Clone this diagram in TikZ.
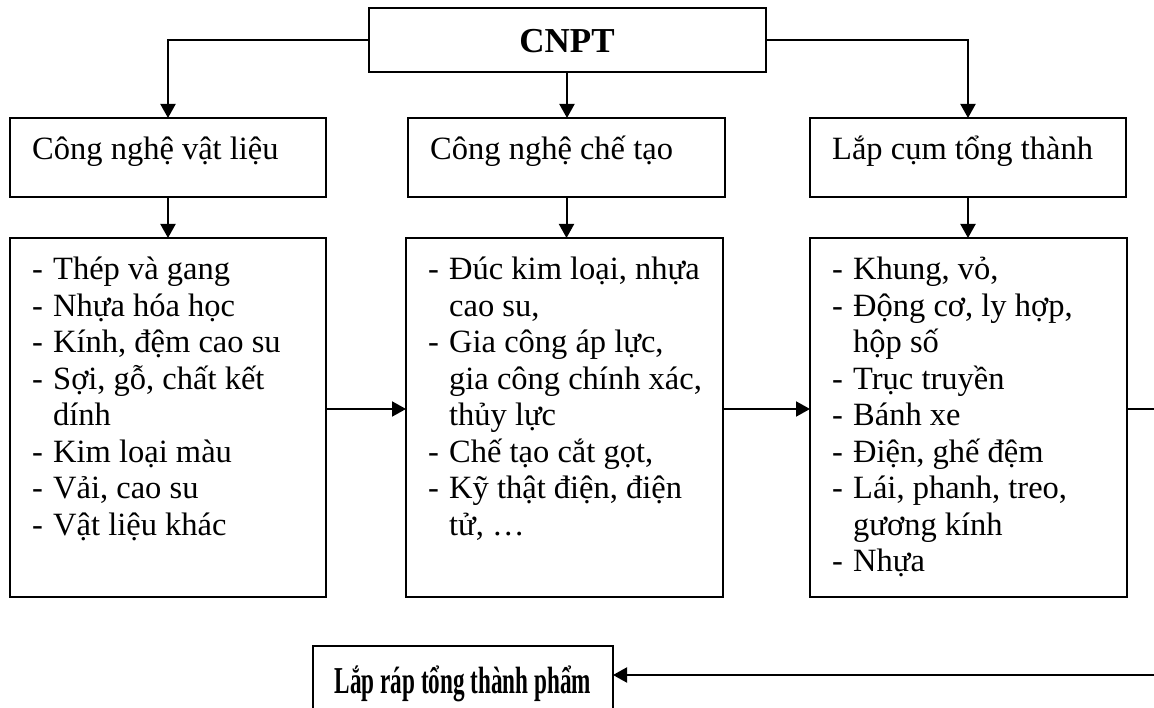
\documentclass[tikz,border=0pt]{standalone}
\usepackage{fontspec}
\usepackage{graphicx}
\setmainfont{Liberation Serif}
\usetikzlibrary{arrows.meta}
\newcommand\lit{\makebox[21pt][l]{-}}
\newcommand\lcn{\hspace*{21pt}}
\newcommand\lst[1]{\vtop{\baselineskip=36.5pt\lineskiplimit=-100pt\lineskip=0pt #1}}
\begin{document}
\begin{tikzpicture}[x=1pt,y=-1pt,
  box/.style={draw,line width=2pt,rectangle,inner sep=0pt,outer sep=0pt},
  txt/.style={anchor=base west,inner sep=0pt,font=\fontsize{32.5}{36.5}\selectfont},
  arr/.style={line width=2pt,-{Triangle[length=14pt,width=15pt]}},
  ln/.style={line width=2pt}]
\useasboundingbox (0,0) rectangle (1154,708);
\clip (0,0) rectangle (1154,708);
% top box
\node[box,minimum width=397,minimum height=64] (cnpt) at (567,40) {};
\node[inner sep=0pt,font=\fontsize{35}{40}\selectfont\bfseries] (cnpttxt) at (567,41) {CNPT};
% row 1
\node[box,minimum width=316,minimum height=79] (t1) at (168,157.5) {};
\node[box,minimum width=317,minimum height=79] (t2) at (566.5,157.5) {};
\node[box,minimum width=316,minimum height=79] (t3) at (968,157.5) {};
\node[txt] (t1txt) at (32,160) {Công nghệ vật liệu};
\node[txt] (t2txt) at (430,160) {Công nghệ chế tạo};
\node[txt] (t3txt) at (832,160) {Lắp cụm tổng thành};
% row 2
\node[box,minimum width=316,minimum height=359] (l1) at (168,417.5) {};
\node[box,minimum width=317,minimum height=359] (l2) at (564.5,417.5) {};
\node[box,minimum width=317,minimum height=359] (l3) at (968.5,417.5) {};
\node[txt] (l1txt) at (32,280) {\lst{%
  \hbox{\lit Thép và gang}%
  \hbox{\lit Nhựa hóa học}%
  \hbox{\lit Kính, đệm cao su}%
  \hbox{\lit Sợi, gỗ, chất kết}%
  \hbox{\lcn dính}%
  \hbox{\lit Kim loại màu}%
  \hbox{\lit Vải, cao su}%
  \hbox{\lit Vật liệu khác}}};
\node[txt] (l2txt) at (428,280) {\lst{%
  \hbox{\lit Đúc kim loại, nhựa}%
  \hbox{\lcn cao su,}%
  \hbox{\lit Gia công áp lực,}%
  \hbox{\lcn gia công chính xác,}%
  \hbox{\lcn thủy lực}%
  \hbox{\lit Chế tạo cắt gọt,}%
  \hbox{\lit Kỹ thật điện, điện}%
  \hbox{\lcn tử, …}}};
\node[txt] (l3txt) at (832,280) {\lst{%
  \hbox{\lit Khung, vỏ,}%
  \hbox{\lit Động cơ, ly hợp,}%
  \hbox{\lcn hộp số}%
  \hbox{\lit Trục truyền}%
  \hbox{\lit Bánh xe}%
  \hbox{\lit Điện, ghế đệm}%
  \hbox{\lit Lái, phanh, treo,}%
  \hbox{\lcn gương kính}%
  \hbox{\lit Nhựa}}};
% final box
\node[box,minimum width=300,minimum height=70] (final) at (463,681) {};
\node[inner sep=0pt,anchor=base,font=\fontsize{38}{42}\selectfont\bfseries] (finaltxt) at (463,693) {\scalebox{0.61}[1]{Lắp ráp tổng thành phẩm}};
% connectors
\draw[arr] (cnpt.west) -| (t1.north);
\draw[arr] (cnpt.south) -- (cnpt.south |- t2.north);
\draw[arr] (cnpt.east) -| (t3.north);
\draw[arr] (t1.south) -- (t1.south |- l1.north);
\draw[arr] (t2.south) -- (t2.south |- l2.north);
\draw[arr] (t3.south) -- (t3.south |- l3.north);
\coordinate (mid) at (0,409);
\coordinate (e1) at (1170,409);
\coordinate (e2) at (1170,675);
\draw[arr] (l1.east |- mid) -- (l2.west |- mid);
\draw[arr] (l2.east |- mid) -- (l3.west |- mid);
\draw[ln] (l3.east |- mid) -- (e1) -- (e2);
\draw[arr] (e2) -- (e2 -| final.east);
\end{tikzpicture}
\end{document}
